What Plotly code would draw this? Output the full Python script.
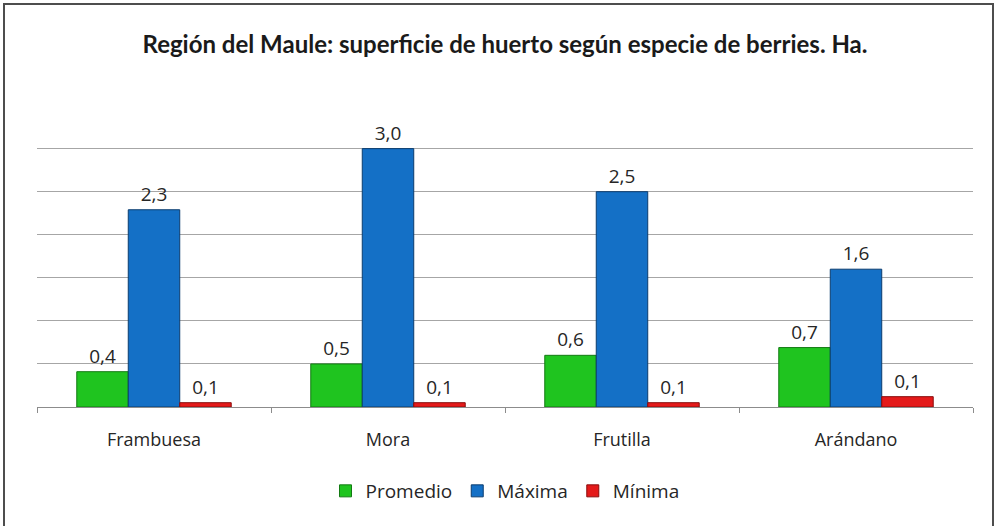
import plotly.graph_objects as go

# --- Data ---
especies = ["Frambuesa", "Mora", "Frutilla", "Arándano"]
promedio = [0.41, 0.50, 0.60, 0.69]
maxima = [2.29, 3.00, 2.50, 1.60]
minima = [0.05, 0.05, 0.05, 0.12]

series = [
    ("Promedio", promedio, "#1FC41F", "#137a13"),
    ("Máxima", maxima, "#1470C6", "#0b3c6e"),
    ("Mínima", minima, "#E41A1A", "#8a0c0c"),
]

fig = go.Figure()
for name, vals, color, edge in series:
    fig.add_trace(go.Bar(
        x=especies,
        y=vals,
        name=name,
        marker=dict(color=color, line=dict(color=edge, width=1)),
        texttemplate="%{y:.1f}",
        textposition="outside",
        textfont=dict(family="Open Sans", size=19, color="#262626"),
        cliponaxis=False,
    ))

H = 526
TOP, BASE = 140, 407      # plot area in pixels
PH = BASE - TOP

fig.update_layout(
    width=996,
    height=H,
    margin=dict(l=37, r=23, t=TOP, b=H - BASE),
    paper_bgcolor="white",
    plot_bgcolor="white",
    separators=",.",
    barmode="group",
    bargap=0.34,
    bargroupgap=0,
    uniformtext=dict(minsize=19),
    title=dict(
        text="<b>Región del Maule: superficie de huerto según especie de berries. Ha.</b>",
        font=dict(family="Lato", size=24, color="#1a1a1a"),
        x=0.5, xref="paper", xanchor="center",
        y=1 - 45 / H, yanchor="middle",
    ),
    xaxis=dict(
        showline=True, linecolor="#8C8C8C", linewidth=1,
        ticks="outside", tickson="boundaries", ticklen=5, tickcolor="#8C8C8C",
        tickfont=dict(family="Open Sans", size=18, color="#262626"),
        ticklabelstandoff=16,
        showgrid=False,
    ),
    yaxis=dict(
        range=[0, 3.1], dtick=0.5, showticklabels=False,
        showgrid=True, gridcolor="#A6A6A6", gridwidth=1,
        zeroline=False, showline=False,
    ),
    legend=dict(
        orientation="h", x=0.5, xanchor="center",
        y=(BASE - 491) / PH, yanchor="middle",
        font=dict(family="Open Sans", size=19, color="#262626"),
        itemwidth=30,
    ),
    showlegend=True,
)

# chart frame
fig.add_shape(type="rect", xref="paper", yref="paper",
              x0=(4 - 37) / 936, x1=(993 - 37) / 936,
              y0=(BASE - 540) / PH, y1=1 + (TOP - 4) / PH,
              line=dict(color="#4d4d4d", width=2))

fig.write_html("out.html", config={"displayModeBar": False},
               post_script="document.body.style.margin='0';")
